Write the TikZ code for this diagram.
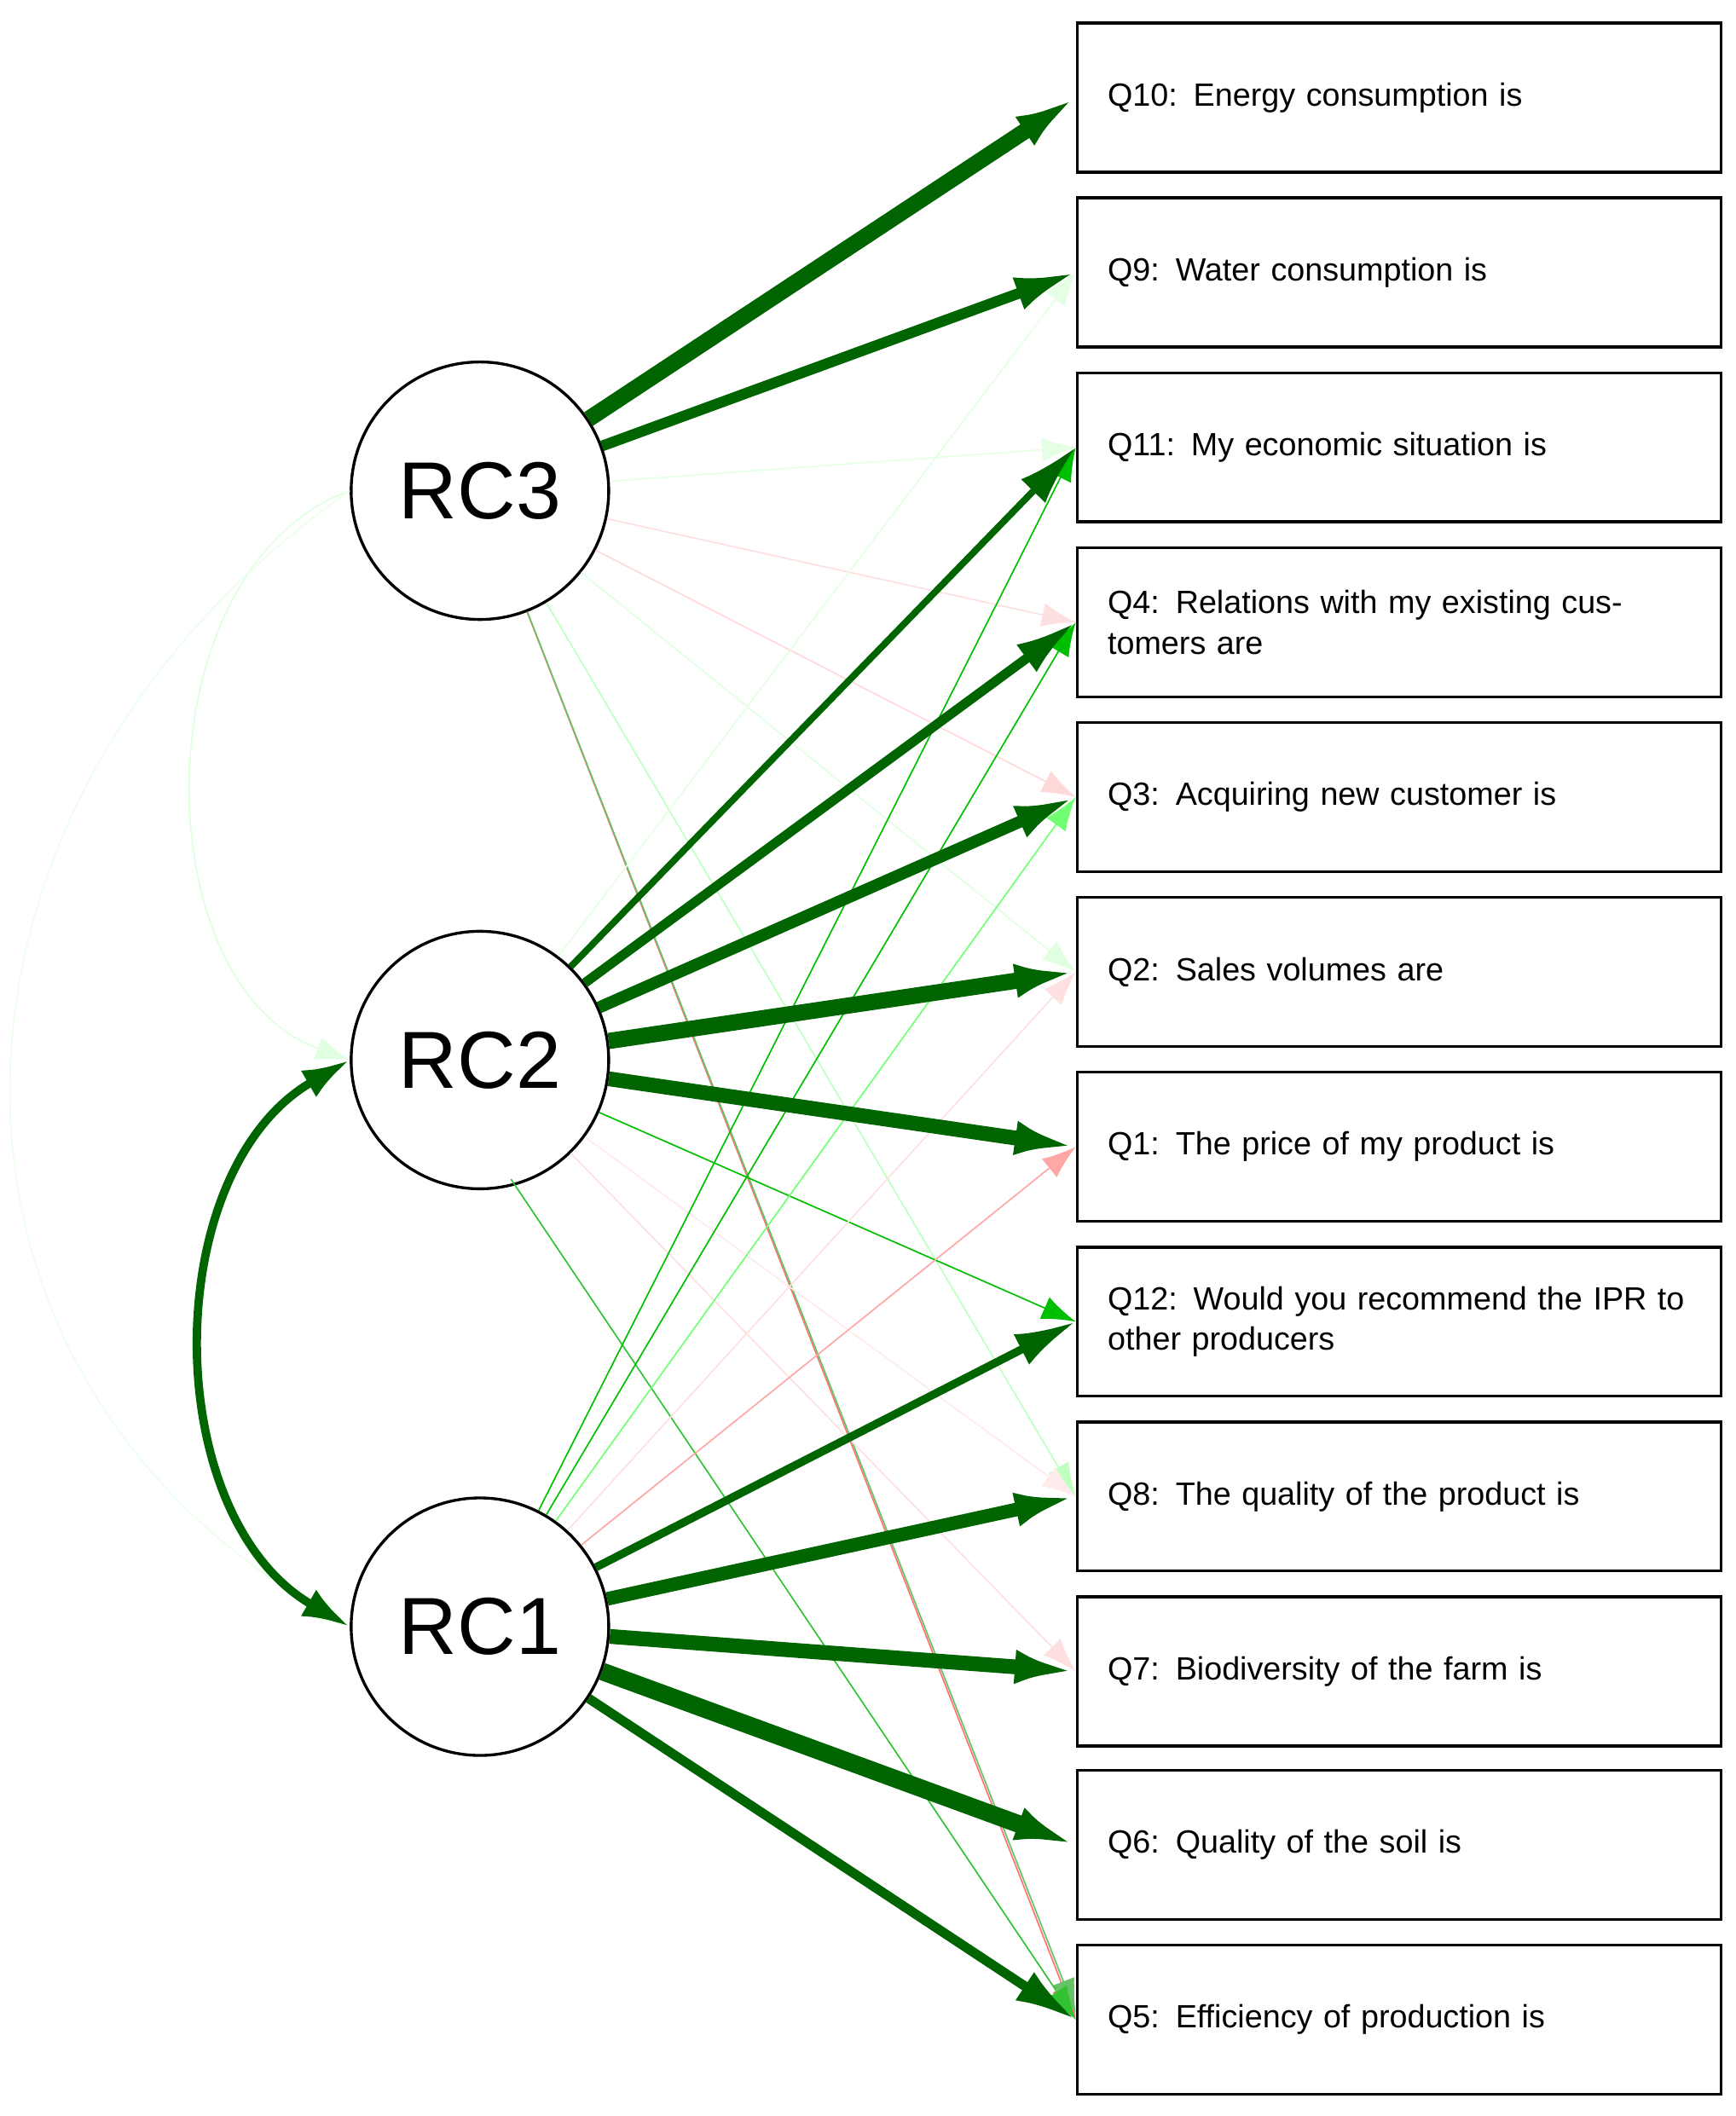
\documentclass[tikz,border=0pt]{standalone}
\usepackage{fontspec}
\setmainfont{Liberation Sans}
\usetikzlibrary{arrows.meta}
\definecolor{dg}{RGB}{0,100,0}
\begin{document}
\begin{tikzpicture}[x=0.02cm,y=-0.02cm,
 box/.style={draw,line width=1.2pt,minimum width=9.5cm,minimum height=2.2cm,text width=8.6cm,align=left,font=\fontsize{13.5}{17}\selectfont,inner sep=0pt},
 lat/.style={draw,circle,line width=1.2pt,minimum size=3.8cm,font=\fontsize{34}{40}\selectfont},
 e/.style={-{Latex[length=9mm,width=5mm]},dg},
 f/.style={-{Latex[length=5mm,width=3.5mm]},line width=0.6pt}]
\useasboundingbox (0,0) rectangle (1280,1561);
\node[lat] (RC3) at (354,362) {RC3};
\node[lat] (RC2) at (354,782) {RC2};
\node[lat] (RC1) at (354,1200) {RC1};
\foreach \n/\y/\t in {Q10/72/{Q10: Energy consumption is},Q9/201/{Q9: Water consumption is},Q11/330/{Q11: My economic situation is},Q4/459/{Q4: Relations with my existing customers are},Q3/588/{Q3: Acquiring new customer is},Q2/717/{Q2: Sales volumes are},Q1/846/{Q1: The price of my product is},Q12/975/{Q12: Would you recommend the IPR to other producers},Q8/1104/{Q8: The quality of the product is},Q7/1233/{Q7: Biodiversity of the farm is},Q6/1361/{Q6: Quality of the soil is},Q5/1490/{Q5: Efficiency of production is}}
 \node[box] (\n) at (1032,\y) {\t};
% faint edges
\draw[f,green!10] (RC3) -- (Q11.west);
\draw[f,red!15] (RC3) -- (Q3.west);
\draw[f,green!25] (RC3) -- (Q8.west);
\draw[f,green!12] (RC3) -- (Q2.west);
\draw[f,red!55] (RC3) -- (Q5.west);
\draw[f,green!60!black!60] (RC3) -- ([yshift=1mm]Q5.west);
\draw[f,red!12] (RC3) -- (Q4.west);
\draw[f,green!75!black] (RC2) -- (Q12.west);
\draw[f,green!70!black!80] (RC2.south east) ++(-45,20) -- (Q5.west);
\draw[f,red!12] (RC2) -- (Q7.west);
\draw[f,red!8] (RC2) -- (Q8.west);
\draw[f,green!10] (RC2) -- (Q9.west);
\draw[f,green!75!black] (RC1) -- (Q11.west);
\draw[f,green!75!black] (RC1) -- (Q4.west);
\draw[f,green!55] (RC1) -- (Q3.west);
\draw[f,red!35] (RC1) -- (Q1.west);
\draw[f,red!12] (RC1) -- (Q2.west);
% covariances
\draw[f,green!12] (RC3.west) to[out=200,in=160] (RC2.west);
\draw[f,green!8] (RC3.west) to[out=215,in=150,looseness=1.2] (RC1.west);
\draw[e,<->,{Latex[length=7mm,width=4.5mm]}-{Latex[length=7mm,width=4.5mm]},line width=3.5pt] (RC2.west) to[out=210,in=150] (RC1.west);
% strong edges
\draw[e,line width=6.8pt] (RC3) -- (Q10.west);
\draw[e,line width=4.5pt] (RC3) -- (Q9.west);
\draw[e,line width=2.8pt] (RC2) -- (Q11.west);
\draw[e,line width=4pt] (RC2) -- (Q4.west);
\draw[e,line width=5pt] (RC2) -- (Q3.west);
\draw[e,line width=6.8pt] (RC2) -- (Q2.west);
\draw[e,line width=6.2pt] (RC2) -- (Q1.west);
\draw[e,line width=3.4pt] (RC1) -- (Q12.west);
\draw[e,line width=5.7pt] (RC1) -- (Q8.west);
\draw[e,line width=6.2pt] (RC1) -- (Q7.west);
\draw[e,line width=7.4pt] (RC1) -- (Q6.west);
\draw[e,line width=4pt] (RC1) -- (Q5.west);
\end{tikzpicture}
\end{document}
